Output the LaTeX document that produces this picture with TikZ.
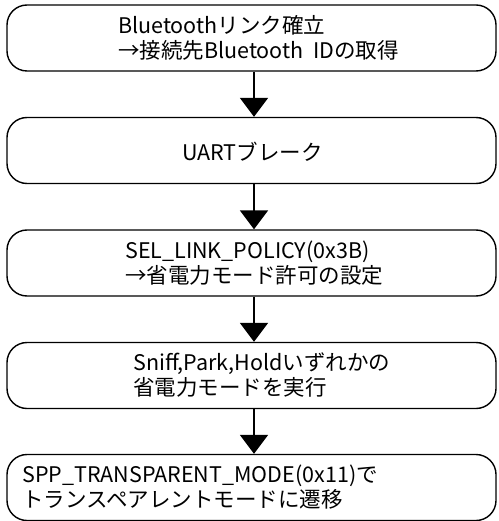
\documentclass[tikz,border=0pt]{standalone}
\usepackage{fontspec}
\setmainfont{Noto Sans CJK JP}
\usetikzlibrary{arrows.meta}
\begin{document}
\begin{tikzpicture}[x=1pt, y=-1pt,
		box/.style={draw, line width=1.4pt, rounded corners=20pt, minimum width=489pt, minimum height=66pt, inner sep=0pt},
		txt/.style={anchor=west, align=left, inner sep=0pt, font=\fontsize{21.5}{25.5}\selectfont},
		flow/.style={line width=2pt, -{Triangle[width=28pt, length=19pt]}}]
		\useasboundingbox (0,0) rectangle (498,521);
		\node[box] (Link) at (251.5,38) {};
		\node[box] (Break) at (251.5,150.5) {};
		\node[box] (Policy) at (251.5,263) {};
		\node[box] (Sniff) at (251.5,375.5) {};
		\node[box] (Transparent) at (251.5,487.5) {};
		\node[txt] (Link text) at (118,38) {Bluetoothリンク確立\\→接続先Bluetooth\ \ IDの取得};
		\node[txt] (Break text) at (182,152) {UARTブレーク};
		\node[txt] (Policy text) at (125,263) {SEL\_LINK\_POLICY(0x3B)\\→省電力モード許可の設定};
		\node[txt] (Sniff text) at (133,375) {Sniff,Park,Holdいずれかの\\省電力モードを実行};
		\node[txt] (Transparent text) at (22,487) {SPP\_TRANSPARENT\_MODE(0x11)で\\トランスペアレントモードに遷移};
		% Arrows
		\draw[flow] ([xshift=2.5pt]Link.south) -- ([xshift=2.5pt]Break.north);
		\draw[flow] ([xshift=2.5pt]Break.south) -- ([xshift=2.5pt]Policy.north);
		\draw[flow] ([xshift=2.5pt]Policy.south) -- ([xshift=2.5pt]Sniff.north);
		\draw[flow] ([xshift=2.5pt]Sniff.south) -- ([xshift=2.5pt]Transparent.north);
	\end{tikzpicture}
\end{document}
